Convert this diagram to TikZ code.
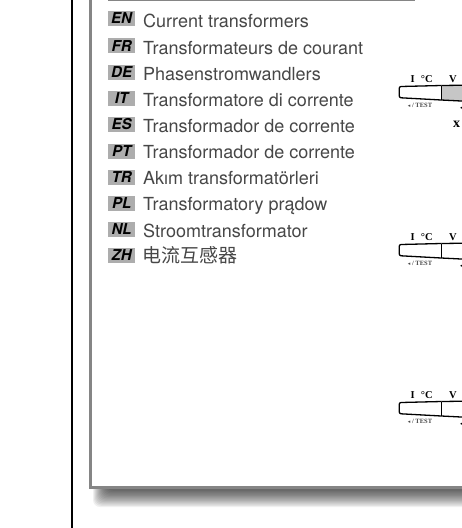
\documentclass[tikz,border=0pt]{standalone}
\usepackage{fontspec}
\setmainfont{TeX Gyre Heros}
\newfontfamily\cjkf{Noto Sans CJK SC}
\newfontfamily\serf{Liberation Serif}
\newfontfamily\dejaf{DejaVu Sans}
\definecolor{framegray}{gray}{0.52}
\definecolor{tagray}{gray}{0.68}
\definecolor{txt}{gray}{0.28}
\tikzset{
  langtag/.style={fill=tagray,minimum width=27pt,minimum height=15pt,inner sep=0pt,text=black,font=\bfseries\itshape\fontsize{15}{15}\selectfont},
  entry/.style={anchor=base west,inner sep=0pt,text=txt,font=\fontsize{18}{18}\selectfont},
  hd/.style={inner sep=0pt,font=\serf\bfseries\fontsize{10.5}{10.5}\selectfont},
  subhd/.style={inner sep=0pt,text=txt,font=\serf\bfseries\fontsize{6.5}{6.5}\selectfont},
  cellline/.style={draw=black,line width=1.3pt},
}
\begin{document}
\begin{tikzpicture}[x=1pt,y=-1pt]
\useasboundingbox (0,0) rectangle (462,528);
\clip (0,0) rectangle (462,528);
\fill[white] (0,0) rectangle (462,528);
\draw[black,line width=2.2pt] (72,-2) -- (72,530);
\foreach \i in {0,...,13}{
  \fill[black,opacity=0.06,rounded corners=7pt] ({93+\i},{-5}) rectangle (480,{507-1.25*\i});
}
\draw[framegray,line width=3pt,fill=white] (90.7,-10) -- (90.7,487.3) -- (480,487.3) -- (480,-10) -- cycle;
\draw[framegray,line width=1pt] (108,0.3) -- (415,0.3);
\node[langtag] (tEN) at (121.6,18.5) {EN};
\node[entry] (eEN) at (143,27.2) {Current transformers};
\node[langtag] (tFR) at (121.6,45.7) {FR};
\node[entry] (eFR) at (143,54) {Transformateurs de courant};
\node[langtag] (tDE) at (121.6,72) {DE};
\node[entry] (eDE) at (143,80.2) {Phasenstromwandlers};
\node[langtag] (tIT) at (121.6,98) {IT};
\node[entry] (eIT) at (143,106.2) {Transformatore di corrente};
\node[langtag] (tES) at (121.6,124.2) {ES};
\node[entry] (eES) at (143,132.3) {Transformador de corrente};
\node[langtag] (tPT) at (121.6,151.5) {PT};
\node[entry] (ePT) at (143,158.7) {Transformador de corrente};
\node[langtag] (tTR) at (121.6,177) {TR};
\node[entry] (eTR) at (143,184.7) {Akım transformatörleri};
\node[langtag] (tPL) at (121.6,203) {PL};
\node[entry] (ePL) at (143,210.7) {Transformatory prądow};
\node[langtag] (tNL) at (121.6,229.2) {NL};
\node[entry] (eNL) at (143,237) {Stroomtransformator};
\node[langtag] (tZH) at (121.6,255.5) {ZH};
\node[entry] (eZH) at (142.5,262.5) {{\cjkf\fontsize{19}{19}\selectfont 电流互感器}};
\fill[gray!45!white] (441.3,85.5) -- (465,85.2) -- (465,101.2) -- (441.3,100) -- cycle;
\foreach \o/\n in {0/a,158/b,316/c}{
  \begin{scope}[yshift=-\o pt]
    \draw[cellline,line join=round] (441.3,85.5) -- (401,86.5) to[out=180,in=90] (399.2,88.5) -- (399.2,95.5) to[out=-90,in=180] (401,97.8) -- (441.3,100) -- (465,101.2);
    \draw[cellline] (441.3,85.5) -- (465,85.2);
    \draw[cellline] (441.3,85.5) -- (441.3,100);
    \node[hd] (i\n) at (412.7,79) {I};
    \node[hd] (c\n) at (426.7,79) {°C};
    \node[hd] (v\n) at (453,79) {V};
    \node[subhd] (s\n) at (420,105.2) {{\dejaf\fontsize{5}{5}\selectfont ◂} / TEST};
    \fill[black] (461.3,107.7) circle (1pt);
  \end{scope}
}
\node[inner sep=0pt,font=\serf\bfseries\fontsize{14}{14}\selectfont] (x) at (456.7,124.6) {x};
\end{tikzpicture}
\end{document}
